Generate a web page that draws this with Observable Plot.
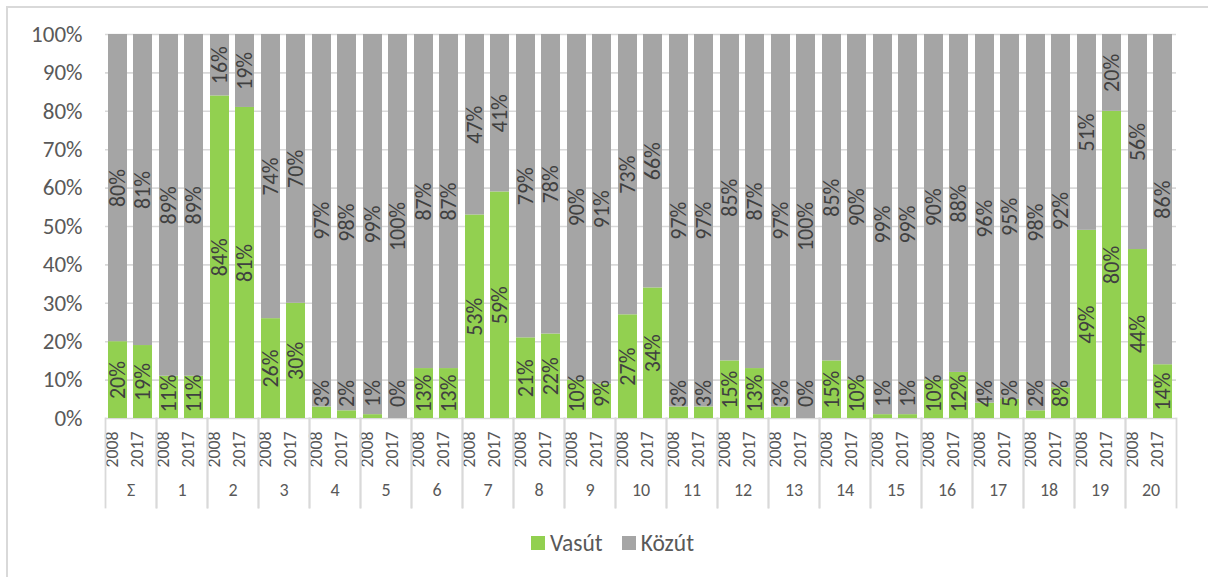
<!DOCTYPE html>
<html>
<head>
<meta charset="utf-8">
<script src="https://cdn.jsdelivr.net/npm/d3@7"></script>
<script src="https://cdn.jsdelivr.net/npm/@observablehq/plot@0.6"></script>
<style>
  html, body { margin: 0; padding: 0; background: #fff; overflow: hidden; }
  body { width: 1208px; height: 577px; position: relative; font-family: Carlito, Calibri, "Open Sans", sans-serif; }
  #frame { position: absolute; left: 6px; top: 6px; width: 1400px; height: 800px; border: 2px solid #D9D9D9; box-sizing: border-box; }
  #chart { position: absolute; left: 0; top: 0; }
  #legend { position: absolute; left: 0; top: 529px; width: 1208px; height: 28px; line-height: 28px; display: flex; justify-content: center; align-items: center; font-size: 23.5px; color: #595959; padding-left: 17px; box-sizing: border-box; }
  #legend .item { display: flex; align-items: center; margin: 0 9.5px; }
  #legend .sw { width: 14px; height: 14px; margin-right: 5px; }
</style>
</head>
<body>
<div id="frame"></div>
<div id="chart"></div>
<div id="legend"></div>
<script>
// Categories: the aggregate (Σ) and regions 1–20, each shown for two years
const groups = ["Σ", "1", "2", "3", "4", "5", "6", "7", "8", "9", "10",
                "11", "12", "13", "14", "15", "16", "17", "18", "19", "20"];
const years = ["2008", "2017"];
const modes = ["Vasút", "Közút"];
const modeColors = ["#92D050", "#A5A5A5"];

// Share of rail (Vasút) and road (Közút), percent
const vasut2008 = [20, 11, 84, 26, 3, 1, 13, 53, 21, 10, 27, 3, 15, 3, 15, 1, 10, 4, 2, 49, 44];
const vasut2017 = [19, 11, 81, 30, 2, 0, 13, 59, 22, 9, 34, 3, 13, 0, 10, 1, 12, 5, 8, 80, 14];
const kozut2008 = [80, 89, 16, 74, 97, 99, 87, 47, 79, 90, 73, 97, 85, 97, 85, 99, 90, 96, 98, 51, 56];
const kozut2017 = [81, 89, 19, 70, 98, 100, 87, 41, 78, 91, 66, 97, 87, 100, 90, 99, 88, 95, 92, 20, 86];

const yTicks = [0, 10, 20, 30, 40, 50, 60, 70, 80, 90, 100];

// Long table for stacking
const series = {
  "Vasút": {"2008": vasut2008, "2017": vasut2017},
  "Közút": {"2008": kozut2008, "2017": kozut2017}
};
const rows = [];
groups.forEach((g, i) => {
  years.forEach(yr => {
    modes.forEach(m => rows.push({group: g, year: yr, mode: m, value: series[m][yr][i]}));
  });
});

// Label positions: centred in each segment, small rail labels lifted off the baseline
const minRailLabel = 6.5;
const labels = [];
groups.forEach((g, i) => {
  years.forEach(yr => {
    const v = series["Vasút"][yr][i];
    const k = series["Közút"][yr][i];
    labels.push({group: g, year: yr, pos: Math.max(v / 2, minRailLabel), text: v + "%"});
    labels.push({group: g, year: yr, pos: v + k / 2, text: k + "%"});
  });
});
const yearCells = groups.flatMap(g => years.map(yr => ({group: g, year: yr})));

const lineColor = "#D9D9D9";
const fontStack = "Carlito, Calibri, 'Open Sans', sans-serif";

const chart = Plot.plot({
  width: 1208,
  height: 520,
  marginLeft: 99,
  marginRight: 27,
  marginTop: 34,
  marginBottom: 102,
  style: {fontFamily: fontStack, fontSize: "23px", color: "#595959", background: "transparent"},
  fx: {domain: groups, paddingInner: 0, paddingOuter: 0, axis: null, label: null},
  x: {domain: years, paddingInner: 0.23, paddingOuter: 0.1, axis: null, label: null},
  y: {domain: [0, 100], ticks: yTicks, tickFormat: d => d + "%", tickSize: 0, tickPadding: 23, label: null},
  color: {domain: modes, range: modeColors},
  marks: [
    Plot.gridY(yTicks, {stroke: lineColor, strokeOpacity: 1, strokeWidth: 1.6}),
    Plot.barY(rows, Plot.stackY({fx: "group", x: "year", y: "value", fill: "mode"})),
    Plot.text(labels, {
      fx: "group", x: "year", y: "pos", text: "text",
      rotate: -90, fontSize: 22, fill: "#404040"
    }),
    // category axis: year row, then region row, separated by vertical dividers
    Plot.text(yearCells, {
      fx: "group", x: "year", text: "year", frameAnchor: "bottom",
      dy: 31, rotate: -90, fontSize: 17.8, fill: "#595959"
    }),
    Plot.text(groups, {
      fx: d => d, text: d => d, frameAnchor: "bottom",
      dy: 77, fontSize: 18, fill: "#595959"
    }),
    Plot.frame({anchor: "left", stroke: lineColor, strokeWidth: 1.8, insetTop: 384, insetBottom: -89}),
    Plot.frame({anchor: "right", stroke: lineColor, strokeWidth: 1.8, insetTop: 384, insetBottom: -89})
  ]
});
document.getElementById("chart").appendChild(chart);

// Legend
const legend = d3.select("#legend");
modes.forEach((m, i) => {
  const item = legend.append("div").attr("class", "item");
  item.append("div").attr("class", "sw").style("background", modeColors[i]);
  item.append("span").text(m);
});
</script>
</body>
</html>
